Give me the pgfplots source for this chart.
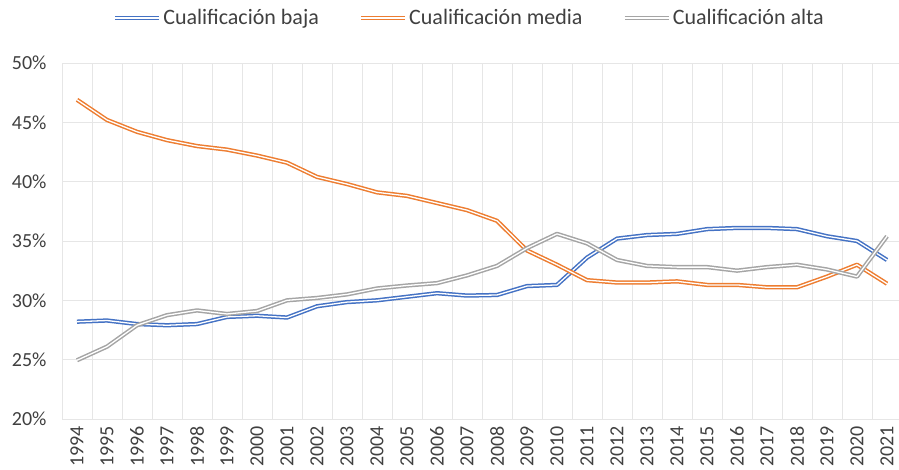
\documentclass[border=0pt]{standalone}
\usepackage{fontspec}
\setmainfont{Carlito}
\usepackage{pgfplots}
\pgfplotsset{compat=1.18}

\definecolor{cbaja}{HTML}{4472C4}
\definecolor{cmedia}{HTML}{ED7D31}
\definecolor{calta}{HTML}{A5A5A5}
\definecolor{gridc}{HTML}{E6E6E6}
\definecolor{txt}{HTML}{404040}

\pgfplotstableread{
x year baja media alta
0  1994 28.20 46.9 24.95
1  1995 28.30 45.2 26.10
2  1996 28.00 44.2 27.90
3  1997 27.90 43.5 28.75
4  1998 28.00 43.0 29.15
5  1999 28.60 42.7 28.85
6  2000 28.70 42.2 29.10
7  2001 28.55 41.6 30.00
8  2002 29.50 40.4 30.20
9  2003 29.85 39.8 30.50
10 2004 30.00 39.1 31.00
11 2005 30.30 38.8 31.25
12 2006 30.60 38.2 31.45
13 2007 30.40 37.6 32.10
14 2008 30.45 36.7 32.90
15 2009 31.20 34.2 34.40
16 2010 31.30 33.0 35.60
17 2011 33.60 31.7 34.80
18 2012 35.20 31.5 33.40
19 2013 35.50 31.5 32.90
20 2014 35.60 31.6 32.80
21 2015 36.00 31.3 32.80
22 2016 36.10 31.3 32.50
23 2017 36.10 31.1 32.80
24 2018 36.00 31.1 33.00
25 2019 35.40 32.0 32.60
26 2020 35.00 33.0 32.00
27 2021 33.40 31.4 35.40
}\datatable

\begin{document}
\begin{tikzpicture}
\begin{axis}[
  name=ax,
  scale only axis,
  width=840pt, height=356pt,
  xmin=-0.5, xmax=27.5,
  ymin=20, ymax=50,
  xtick={0,...,27},
  xticklabels={1994,1995,1996,1997,1998,1999,2000,2001,2002,2003,2004,2005,2006,2007,2008,2009,2010,2011,2012,2013,2014,2015,2016,2017,2018,2019,2020,2021},
  minor xtick={-0.5,0.5,...,27.5},
  xminorgrids,
  ytick={20,25,...,50},
  ymajorgrids,
  minor grid style={draw=gridc, line width=0.8pt},
  major grid style={draw=gridc, line width=0.8pt},
  axis line style={draw=none},
  major tick length=0pt, minor tick length=0pt,
  yticklabel={\pgfmathprintnumber{\tick}\%},
  /pgf/number format/assume math mode=true,
  ticklabel style={font=\fontsize{20}{24}\selectfont, text=txt},
  xticklabel style={rotate=90, anchor=east, inner sep=1pt, xshift=-6pt},
  yticklabel style={xshift=-12pt},
  legend columns=3,
  legend style={at={(0.485,1)}, anchor=center, yshift=45pt, draw=none,
    font=\fontsize{22}{26}\selectfont, text=txt,
    nodes={inner xsep=2pt},
    /tikz/every even column/.append style={column sep=38pt}},
  legend image code/.code={\draw[#1] (0pt,0pt) -- (44pt,0pt);},
  every axis plot/.append style={line width=1.5pt, double=white, double distance=1.3pt, line join=round},
]
\addplot[draw=cbaja, mark=none] table[x=x, y=baja] {\datatable};
\addlegendentry{Cualificación baja}
\addplot[draw=cmedia, mark=none] table[x=x, y=media] {\datatable};
\addlegendentry{Cualificación media}
\addplot[draw=calta, mark=none] table[x=x, y=alta] {\datatable};
\addlegendentry{Cualificación alta}
\end{axis}
\pgfresetboundingbox
\path (ax.south west) ++(-62pt,-51pt) rectangle ++(899pt,470pt);
\end{tikzpicture}
\end{document}
